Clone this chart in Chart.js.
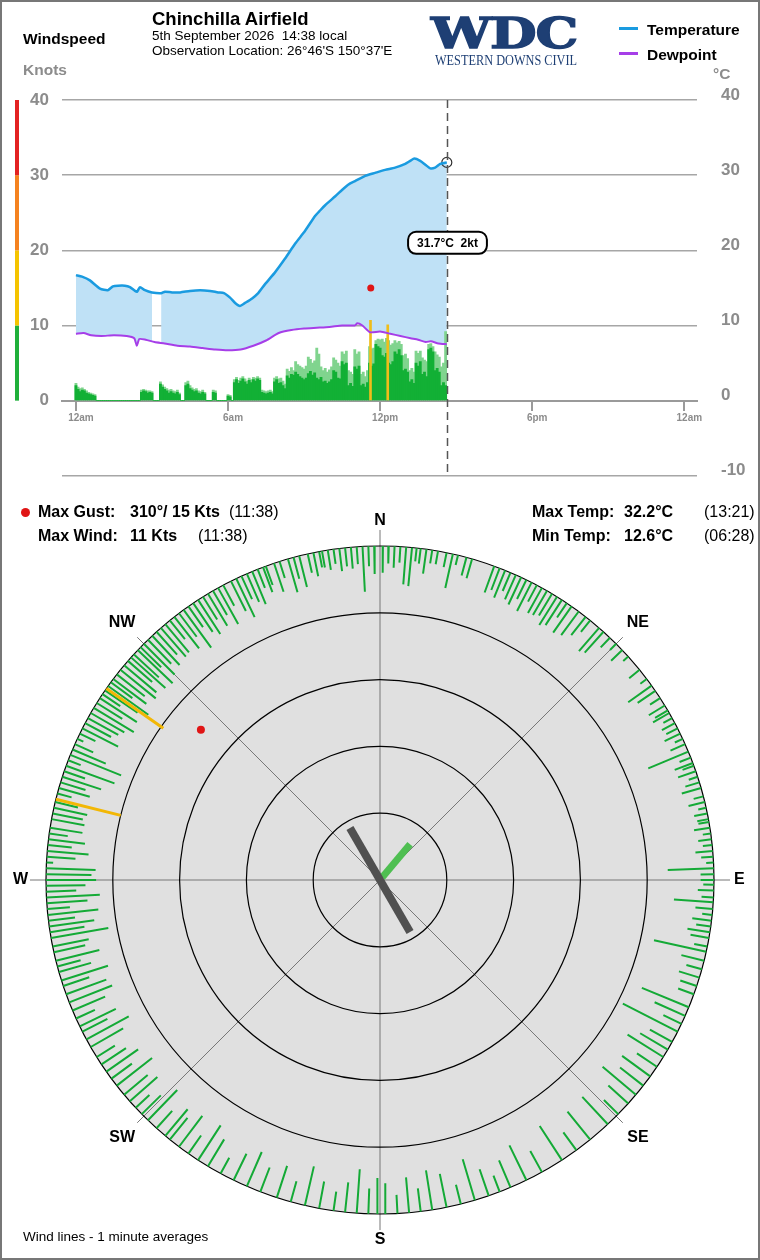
<!DOCTYPE html>
<html>
<head>
<meta charset="utf-8">
<title>Chinchilla Airfield</title>
<script src="https://cdn.jsdelivr.net/npm/chart.js@4.4.1/dist/chart.umd.min.js"></script>
<style>
  body { margin: 0; background: #fff; font-family: "Liberation Sans", Arial, sans-serif; }
  #page { position: relative; width: 760px; height: 1260px; overflow: hidden; background: #fff; }
  #frame { position: absolute; left: 0; top: 0; width: 760px; height: 1260px; border: 2px solid #777; box-sizing: border-box; z-index: 5; pointer-events: none; }
  canvas { position: absolute; left: 0; }
  .t { position: absolute; white-space: pre; line-height: 1; color: #000; z-index: 3; }
  .b { font-weight: bold; }
  .logo { position: absolute; color: #1e3f74; z-index: 3; white-space: pre; line-height: 1; }
</style>
</head>
<body>
<div id="page">
  <canvas id="timeChart" width="760" height="502" style="top:0"></canvas>
  <canvas id="roseChart" width="760" height="760" style="top:500px"></canvas>

  <div class="t b" style="left:152px;top:9.5px;font-size:18.5px">Chinchilla Airfield</div>
  <div class="t" style="left:152px;top:29px;font-size:13.5px">5th September 2026  14:38 local</div>
  <div class="t" style="left:152px;top:44px;font-size:13.5px">Observation Location: 26°46'S 150°37'E</div>
  <div class="t b" style="left:23px;top:30.5px;font-size:15.5px">Windspeed</div>
  <div class="t b" style="left:23px;top:61.5px;font-size:15.5px;color:#8c8c8c">Knots</div>
  <div class="t b" style="left:713px;top:66px;font-size:15.5px;color:#8c8c8c">°C</div>

  <div class="logo" style="left:431px;top:13px;font-family:'DejaVu Serif',serif;font-weight:bold;font-size:42px;letter-spacing:-1px;transform:scaleX(1.28);transform-origin:0 0;-webkit-text-stroke:1.4px #1e3f74">WDC</div>
  <div class="logo" style="left:435px;top:53px;font-family:'Liberation Serif',serif;font-size:15px;transform:scaleX(0.82);transform-origin:0 0">WESTERN DOWNS CIVIL</div>

  <div style="position:absolute;left:619px;top:27px;width:19px;height:3px;background:#1a9be0"></div>
  <div style="position:absolute;left:619px;top:52px;width:19px;height:3px;background:#a63ee8"></div>
  <div class="t b" style="left:647px;top:21.5px;font-size:15.5px">Temperature</div>
  <div class="t b" style="left:647px;top:46.5px;font-size:15.5px">Dewpoint</div>

  <div style="position:absolute;left:21px;top:508px;width:9px;height:9px;border-radius:50%;background:#e01515;z-index:3"></div>
  <div class="t b" style="left:38px;top:504px;font-size:16px">Max Gust:</div>
  <div class="t b" style="left:130px;top:504px;font-size:16px">310°/ 15 Kts</div>
  <div class="t" style="left:229px;top:504px;font-size:16px">(11:38)</div>
  <div class="t b" style="left:38px;top:528px;font-size:16px">Max Wind:</div>
  <div class="t b" style="left:130px;top:528px;font-size:16px">11 Kts</div>
  <div class="t" style="left:198px;top:528px;font-size:16px">(11:38)</div>
  <div class="t b" style="left:532px;top:504px;font-size:16px">Max Temp:</div>
  <div class="t b" style="left:624px;top:504px;font-size:16px">32.2°C</div>
  <div class="t" style="left:704px;top:504px;font-size:16px">(13:21)</div>
  <div class="t b" style="left:532px;top:528px;font-size:16px">Min Temp:</div>
  <div class="t b" style="left:624px;top:528px;font-size:16px">12.6°C</div>
  <div class="t" style="left:704px;top:528px;font-size:16px">(06:28)</div>

  <div class="t" style="left:23px;top:1230px;font-size:13.5px">Wind lines - 1 minute averages</div>
  <div id="frame"></div>
</div>

<script>
// ---- time series data ----
const timeLabels = ['12am', '6am', '12pm', '6pm', '12am'];
const tickHours = [0, 6, 12, 18, 24];

const tempTimes = [0, 0.24, 0.55, 0.95, 1.26, 1.46, 1.66, 1.93, 2.13, 2.33, 2.41, 2.53, 2.72, 3.0, 3.36, 3.51, 3.79, 4.11, 4.5, 4.9,
  5.29, 5.61, 5.84, 6.08, 6.28, 6.47, 6.67, 6.95, 7.19, 7.46, 7.86, 8.25, 8.65, 9.04, 9.44, 9.63, 9.83, 10.23, 10.62, 10.82,
  11.01, 11.41, 11.8, 12.2, 12.59, 12.99, 13.19, 13.35, 13.58, 13.78, 13.98, 14.17, 14.37, 14.63];
const tempVals = [16.7, 16.5, 16.0, 14.9, 14.7, 15.2, 15.3, 15.3, 15.1, 14.6, 14.5, 15.1, 14.7, 14.4, 14.3, 14.5, 14.4, 14.4, 14.6, 14.7,
  14.6, 14.4, 14.3, 13.7, 13.0, 12.6, 13.0, 13.6, 14.3, 15.5, 17.1, 18.9, 20.9, 22.6, 24.6, 25.3, 26.0, 27.2, 28.4, 28.9,
  29.2, 29.9, 30.3, 30.7, 31.0, 31.5, 31.9, 32.2, 31.9, 31.4, 30.9, 31.0, 31.5, 31.7];
const fillGap = [3.0, 3.36];   // missing fill between these hours

const dewTimes = [0, 0.3, 0.6, 1.0, 1.5, 2.0, 2.3, 2.4, 2.5, 2.75, 3.1, 3.5, 4.0, 4.5, 5.0, 5.5, 6.0, 6.5, 7.0, 7.5,
  8.0, 8.5, 9.0, 9.5, 10.0, 10.5, 11.0, 11.1, 11.3, 11.6, 12.0, 12.4, 12.8, 13.2, 13.5, 13.8, 14.0, 14.3, 14.63];
const dewVals = [8.9, 9.0, 8.7, 8.6, 8.7, 8.6, 8.3, 7.3, 8.2, 8.1, 7.8, 7.6, 7.3, 7.2, 7.0, 6.8, 6.7, 6.8, 7.3, 8.0,
  9.0, 9.4, 9.6, 9.7, 9.8, 10.0, 10.0, 10.3, 10.0, 9.1, 9.2, 8.9, 8.6, 8.3, 8.1, 7.8, 7.9, 7.6, 7.5];

// wind, one value every 5 minutes from midnight (knots)
const stepMin = 5;
const windAvg = [
  2.0, 1.5, 1.2, 1.4, 1.3, 1.0, 0.9, 0.8, 0.7, 0.6, 0, 0,
  0, 0, 0, 0, 0, 0, 0, 0, 0, 0, 0, 0,
  0, 0, 0, 0, 0, 0, 0, 1.1, 1.3, 1.2, 1.0, 1.1,
  1.0, 0, 0, 0, 2.2, 1.8, 1.5, 1.3, 1.0, 1.2, 1.0, 0.9,
  1.1, 0.8, 0, 0, 2.0, 2.2, 1.6, 1.4, 1.2, 1.3, 1.0, 0.9,
  1.1, 0.9, 0, 0, 0, 1.1, 1.0, 0, 0, 0, 0, 0,
  0.6, 0.5, 0, 2.4, 2.8, 2.3, 2.6, 2.9, 2.5, 2.2, 2.7, 2.4,
  2.8, 2.6, 2.9, 2.7, 1.1, 1.0, 0.9, 1.0, 1.1, 0.9, 2.5, 2.8,
  2.3, 2.4, 2.0, 1.6, 3.3, 3.0, 3.5, 3.4, 3.8, 3.5, 3.2, 3.0,
  2.8, 3.0, 3.6, 3.9, 3.4, 3.7, 3.0, 2.8, 3.1, 2.5, 2.6, 2.3,
  2.5, 2.8, 4.0, 3.8, 3.0, 2.9, 5.2, 4.8, 5.0, 2.0, 2.3, 1.9,
  4.5, 4.2, 4.6, 2.0, 2.2, 1.8, 2.4, 5.0, 4.6, 4.9, 7.5, 7.2,
  7.0, 6.0, 5.8, 6.3, 5.0, 4.8, 5.2, 6.5, 6.2, 6.8, 6.0, 4.0,
  4.2, 3.8, 2.5, 2.8, 2.3, 5.0, 4.6, 5.2, 3.5, 3.8, 3.2, 6.8,
  7.0, 6.5, 4.0, 4.3, 3.8, 2.0, 2.4, 2.0
];
const windGust = [
  2.3, 1.8, 1.6, 1.7, 1.5, 1.3, 1.1, 1.0, 0.9, 0.8, 0, 0,
  0, 0, 0, 0, 0, 0, 0, 0, 0, 0, 0, 0,
  0, 0, 0, 0, 0, 0, 0, 1.4, 1.5, 1.4, 1.3, 1.3,
  1.2, 0, 0, 0, 2.5, 2.1, 1.8, 1.6, 1.4, 1.5, 1.3, 1.2,
  1.4, 1.0, 0, 0, 2.4, 2.6, 2.0, 1.7, 1.5, 1.6, 1.3, 1.2,
  1.4, 1.1, 0, 0, 0, 1.4, 1.3, 0, 0, 0, 0, 0,
  0.8, 0.7, 0, 2.8, 3.1, 2.7, 3.0, 3.2, 2.9, 2.6, 3.0, 2.8,
  3.1, 3.0, 3.2, 3.0, 1.4, 1.3, 1.2, 1.3, 1.4, 1.2, 3.0, 3.2,
  2.9, 3.0, 2.6, 2.2, 4.2, 3.9, 4.4, 4.0, 5.2, 4.8, 4.6, 4.4,
  4.2, 4.6, 5.8, 5.5, 5.0, 5.3, 7.0, 6.2, 4.5, 4.0, 4.3, 3.8,
  4.1, 4.5, 5.7, 5.4, 5.0, 4.6, 6.5, 6.2, 6.6, 4.0, 3.8, 3.5,
  6.8, 6.2, 6.5, 3.5, 3.8, 3.2, 4.0, 7.2, 6.9, 7.0, 8.0, 8.2,
  8.1, 8.2, 7.8, 8.3, 8.0, 7.4, 7.6, 8.0, 7.7, 7.9, 7.5, 6.0,
  6.2, 5.6, 4.0, 4.3, 3.8, 6.6, 6.3, 6.6, 5.7, 5.4, 5.2, 7.5,
  7.6, 7.2, 6.5, 6.1, 5.8, 4.5, 5.0, 9.2
];
const maxWindTimes = [11.62, 12.3];
const maxWindVals = [10.7, 10.1];
const gustTime = 11.63;
const gustVal = 15;
const nowHour = 14.63;
const nowTemp = 31.7;
const nowWind = 2;
const cursorLabelAt = 21;

const bandStarts = [0, 10, 20, 30];
const bandColors = ['#1fb03a', '#f5c400', '#f5821f', '#e32222'];

// ---- wind rose data (direction deg, speed kt) ----
const roseDir = [
  0.5, 1.5, 2.5, 3.5, 4.5, 5.5, 6.3, 7, 8, 9,
  10, 11.5, 12.6, 13.5, 15, 16,
  20, 21, 22, 23, 24, 25, 26, 27, 28, 29,
  30, 31, 32, 33, 34, 35, 36.5, 38, 39,
  41, 42, 43.5, 45, 46.5, 48,
  51, 53, 54.4, 55.5, 57, 58.5, 59.5,
  60, 61, 62, 63, 64, 65, 66, 67.4, 68.5, 69.5,
  70, 71, 72, 73, 74, 75.5, 76.5, 77.5, 78.5, 79.5,
  80, 81, 82, 83, 84, 85, 86, 87, 88, 89,
  90, 90.8, 91.8, 93, 93.8, 95, 96, 97, 98, 99,
  100, 101.5, 102.4, 104, 105.5, 107, 108.5,
  110, 112.4, 114, 115.5, 117, 119,
  120.5, 122, 124, 126, 128,
  130, 132, 134.5, 137,
  141, 144, 147,
  151, 154, 157, 159,
  161, 163.5, 166, 168.5,
  171, 173, 175, 177, 179,
  180.5, 182, 184, 186, 188,
  190.5, 193, 195.5, 198,
  201, 203.5, 206, 208.5,
  211, 213, 215, 217, 219,
  220, 222, 224, 225.5, 227, 228.5,
  230, 232, 233.5, 235, 236.5, 238,
  240, 241.5, 243, 244, 245.5, 247, 248.5,
  250, 251.5, 252.5, 254, 255, 256, 257.5, 258.5,
  260, 261, 262, 263, 264, 265, 266, 267, 268, 269,
  270, 271, 272, 273, 274, 275, 276, 277, 278, 279,
  280.5, 281.5, 282.5, 283.5, 285, 286, 287, 288, 289,
  290, 291, 292, 293, 294, 295, 296, 297, 298, 299,
  300, 301, 302, 303, 303.8, 304.6, 305.5, 306.3, 307, 308, 309,
  310, 311, 311.8, 312.5, 313.5, 314.2, 315, 316, 317, 318, 319,
  320, 321, 322, 323, 324, 325, 326, 327, 328, 329,
  330, 331, 332, 333.5, 334.5, 335.5, 336.5, 337.5, 338.5, 339.5,
  340, 341.5, 342.5, 344, 345, 346, 347.5, 348.5, 349.5,
  350, 351, 352, 353, 354, 355, 356, 357, 358, 359
];
const roseSpd = [
  4.0, 2.6, 3.2, 2.4, 5.6, 5.8, 2.0, 2.3, 3.7, 2.0,
  2.0, 2.2, 5.2, 1.5, 2.8, 3.0,
  4.2, 3.5, 4.4, 3.0, 4.0, 4.5, 3.2, 4.8, 2.8, 4.3,
  4.2, 3.8, 5.0, 4.5, 2.6, 4.8, 4.4, 3.5, 2.2,
  4.6, 4.2, 2.0, 1.3, 2.3, 1.0,
  2.0, 1.2, 4.3, 3.2, 1.8, 2.8, 2.2,
  2.8, 1.5, 2.2, 1.9, 2.6, 1.3, 2.4, 6.5, 1.8, 2.9,
  1.8, 2.8, 1.4, 2.2, 3.0, 1.5, 2.5, 1.2, 2.0, 1.7,
  1.6, 2.4, 1.2, 2.0, 1.4, 2.6, 1.8, 1.1, 6.9, 2.0,
  2.0, 1.6, 2.4, 1.8, 5.9, 2.6, 1.5, 2.9, 2.2, 3.4,
  2.8, 2.0, 8.0, 3.5, 2.4, 3.2, 2.6,
  2.5, 7.6, 5.0, 3.0, 9.2, 3.8,
  4.8, 6.3, 3.6, 5.2, 4.4,
  6.5, 4.0, 3.0, 5.6,
  5.4, 3.3, 6.1,
  3.6, 5.8, 4.4, 2.6,
  4.2, 6.4, 3.0, 5.1,
  6.0, 3.5, 5.3, 2.8, 4.6,
  5.4, 3.8, 6.6, 4.5, 2.9,
  4.1, 6.0, 3.2, 5.0,
  3.9, 5.6, 4.4, 2.7,
  4.7, 6.2, 3.3, 5.8, 4.2,
  5.2, 3.5, 6.3, 4.0, 2.8, 5.5,
  4.6, 6.7, 3.8, 5.8, 4.4, 3.2,
  5.6, 7.2, 4.2, 6.0, 3.1, 5.3, 6.9,
  6.4, 4.1, 7.3, 5.0, 3.6, 6.7, 4.8, 5.5,
  8.7, 5.2, 6.8, 4.0, 7.6, 3.4, 6.1, 8.0, 4.5, 5.9,
  7.5, 6.8, 7.4, 1.0, 4.3, 6.2, 3.6, 5.5, 2.8, 4.9,
  5.0, 4.6, 5.1, 3.5, 2.2, 4.8, 3.9, 6.1, 3.3,
  7.7, 2.0, 8.2, 5.4, 3.0, 1.0, 2.6, 6.0, 4.4, 5.2,
  5.8, 7.0, 4.5, 6.6, 3.2, 5.9, 7.4, 4.0, 6.2, 5.3, 6.8,
  6.3, 4.8, 6.9, 5.1, 7.2, 4.3, 6.5, 5.0, 6.0, 4.6, 5.7,
  5.5, 3.6, 6.0, 4.4, 7.0, 3.8, 5.2, 6.1, 4.0, 5.6,
  4.2, 6.2, 3.5, 5.0, 6.4, 3.8, 4.6, 5.3, 3.0, 4.0,
  3.0, 4.5, 2.6, 5.2, 3.3, 4.8, 2.9, 3.6, 2.4,
  2.5, 3.0, 2.2, 3.4, 2.8, 3.2, 2.6, 6.8, 3.0, 4.2
];
const maxDir = [305, 284];
const maxSpd = [10.4, 10.0];
const gustDir = 310;
const avgDir = 330;
const avgLen = 9;
const curDir = 40;
const curLen = 7;
const rimKts = 50;
const ringKts = [10, 20, 30, 40];
const compass = ['N', 'NE', 'E', 'SE', 'S', 'SW', 'W', 'NW'];

Chart.defaults.font.family = "'Liberation Sans', Arial, sans-serif";
Chart.defaults.animation = false;

// ---- time series chart ----
const pts = (xs, ys) => xs.map((x, i) => ({x: x, y: ys[i]}));
const windPts = arr => arr.map((v, i) => ({x: i * stepMin / 60, y: v}));

const fillPts = pts(tempTimes, tempVals);
const gapAt = fillPts.findIndex(p => p.x === fillGap[0]);
fillPts.splice(gapAt + 1, 0, {x: (fillGap[0] + fillGap[1]) / 2, y: null});

const timeDeco = {
  id: 'timeDeco',
  beforeDatasetsDraw(chart) {
    const {ctx, scales: {y}} = chart;
    ctx.save();
    bandStarts.forEach((b, i) => {
      const top = y.getPixelForValue(b + 10);
      const bot = y.getPixelForValue(b);
      ctx.fillStyle = bandColors[i];
      ctx.fillRect(15, top, 4, bot - top);
    });
    ctx.restore();
  },
  afterDatasetsDraw(chart) {
    const {ctx, chartArea, scales: {x, y}} = chart;
    const nx = Math.round(x.getPixelForValue(nowHour)) + 0.5;
    ctx.save();
    ctx.strokeStyle = '#555';
    ctx.lineWidth = 1.5;
    ctx.setLineDash([8, 5]);
    ctx.beginPath();
    ctx.moveTo(nx, chartArea.top);
    ctx.lineTo(nx, chartArea.bottom);
    ctx.stroke();
    ctx.setLineDash([]);

    const label = nowTemp.toFixed(1) + '°C  ' + nowWind + 'kt';
    ctx.font = "bold 12px 'Liberation Sans', Arial, sans-serif";
    const w = ctx.measureText(label).width + 18;
    const h = 22;
    const ly = y.getPixelForValue(cursorLabelAt);
    ctx.beginPath();
    ctx.roundRect(nx - w / 2, ly - h / 2, w, h, 8);
    ctx.fillStyle = '#fff';
    ctx.fill();
    ctx.lineWidth = 2;
    ctx.strokeStyle = '#000';
    ctx.stroke();
    ctx.fillStyle = '#000';
    ctx.textAlign = 'center';
    ctx.textBaseline = 'middle';
    ctx.fillText(label, nx, ly + 1);
    ctx.restore();
  }
};

new Chart(document.getElementById('timeChart'), {
  type: 'line',
  data: {
    datasets: [
      {label: 'Temperature', data: pts(tempTimes, tempVals), borderColor: '#1a9be0', borderWidth: 2.5,
        pointRadius: 0, tension: 0.2, order: 0},
      {label: 'Dewpoint', data: pts(dewTimes, dewVals), borderColor: '#a63ee8', borderWidth: 2,
        pointRadius: 0, tension: 0.2, order: 1},
      {label: 'fill', data: fillPts, borderWidth: 0, borderColor: 'rgba(0,0,0,0)', backgroundColor: '#bfe1f6',
        pointRadius: 0, tension: 0.2, fill: 1, spanGaps: false, order: 9},
      {type: 'scatter', label: 'gust', data: [{x: gustTime, y: gustVal}], pointRadius: 3.5,
        pointBackgroundColor: '#e01515', pointBorderWidth: 0, order: 0},
      {type: 'scatter', label: 'now', data: [{x: nowHour, y: nowTemp}], pointRadius: 5,
        pointBackgroundColor: 'rgba(0,0,0,0)', pointBorderColor: '#333', pointBorderWidth: 1.2, order: 0},
      {type: 'bar', label: 'max wind', data: pts(maxWindTimes, maxWindVals), backgroundColor: '#efbd1a',
        barThickness: 2, grouped: false, order: 3},
      {type: 'bar', label: 'wind', data: windPts(windAvg), backgroundColor: '#12b035',
        barThickness: 2.2, grouped: false, order: 4},
      {type: 'bar', label: 'gust', data: windPts(windGust), backgroundColor: '#80d48e',
        barThickness: 2.2, grouped: false, order: 5}
    ]
  },
  options: {
    responsive: false,
    layout: {padding: {top: 100, bottom: 3, left: 0, right: 0}},
    plugins: {legend: {display: false}, tooltip: {enabled: false}},
    scales: {
      x: {
        type: 'linear', min: -0.55, max: 24.5, position: {y: 0}, offset: false,
        afterBuildTicks: s => { s.ticks = tickHours.map(v => ({value: v})); },
        ticks: {callback: (v, i) => timeLabels[i], color: '#8c8c8c', font: {size: 10, weight: 'bold'},
          padding: 3, labelOffset: 5, maxRotation: 0, autoSkip: false},
        grid: {offset: false, drawOnChartArea: false, drawTicks: true, tickLength: 9, color: '#9a9a9a', lineWidth: 2},
        border: {display: true, color: '#9a9a9a', width: 2}
      },
      y: {
        type: 'linear', min: -10, max: 40, position: 'left',
        afterFit: s => { s.width = 62; },
        ticks: {stepSize: 10, callback: v => (v < 0 ? '' : v), color: '#8c8c8c', padding: 13,
          font: {size: 17, weight: 'bold'}},
        grid: {color: '#a6a6a6', lineWidth: 1.5, drawTicks: false},
        border: {display: false}
      },
      y2: {
        type: 'linear', min: -10, max: 40, position: 'right',
        afterFit: s => { s.width = 63; },
        ticks: {stepSize: 10, color: '#8c8c8c', padding: 16, labelOffset: -5,
          font: {size: 17, weight: 'bold'}},
        grid: {display: false},
        border: {display: false}
      }
    }
  },
  plugins: [timeDeco]
});

// ---- wind rose ----
function polar(dir, r) {
  const a = dir * Math.PI / 180;
  return {x: r * Math.sin(a), y: r * Math.cos(a)};
}
function spokes(dirs, spds) {
  const out = [];
  dirs.forEach((d, i) => {
    out.push(polar(d, rimKts), polar(d, rimKts - spds[i]), {x: null, y: null});
  });
  return out;
}

const roseDeco = {
  id: 'roseDeco',
  beforeDatasetsDraw(chart) {
    const {ctx, scales: {x, y}} = chart;
    const cx = x.getPixelForValue(0);
    const cy = y.getPixelForValue(0);
    const rad = k => x.getPixelForValue(k) - cx;
    ctx.save();
    ctx.beginPath();
    ctx.arc(cx, cy, rad(rimKts), 0, Math.PI * 2);
    ctx.fillStyle = '#e0e0e0';
    ctx.fill();
    ctx.strokeStyle = '#777';
    ctx.lineWidth = 1;
    compass.forEach((c, i) => {
      const p = polar(i * 45, i % 2 ? 51.4 : 52.4);
      ctx.beginPath();
      ctx.moveTo(cx, cy);
      ctx.lineTo(x.getPixelForValue(p.x), y.getPixelForValue(p.y));
      ctx.stroke();
    });
    ctx.strokeStyle = '#000';
    ctx.lineWidth = 1.2;
    ctx.beginPath();
    ctx.arc(cx, cy, rad(rimKts), 0, Math.PI * 2);
    ctx.stroke();
    ringKts.forEach(k => {
      ctx.beginPath();
      ctx.arc(cx, cy, rad(rimKts - k), 0, Math.PI * 2);
      ctx.stroke();
    });
    ctx.restore();
  },
  afterDatasetsDraw(chart) {
    const {ctx, scales: {x, y}} = chart;
    ctx.save();
    ctx.font = "bold 16px 'Liberation Sans', Arial, sans-serif";
    ctx.fillStyle = '#000';
    ctx.textAlign = 'center';
    ctx.textBaseline = 'middle';
    compass.forEach((c, i) => {
      const p = polar(i * 45, i % 2 ? 54.6 : 53.8);
      ctx.fillText(c, x.getPixelForValue(p.x), y.getPixelForValue(p.y));
    });
    ctx.restore();
  }
};

const lineOpts = {showLine: true, pointRadius: 0, spanGaps: false, borderCapStyle: 'butt', tension: 0};

new Chart(document.getElementById('roseChart'), {
  type: 'scatter',
  data: {
    datasets: [
      Object.assign({data: [polar(avgDir, avgLen), polar(avgDir + 180, avgLen)], borderColor: '#505050',
        borderWidth: 8, order: 0}, lineOpts),
      Object.assign({data: [polar(curDir, 0.5), polar(curDir, curLen)], borderColor: '#4fbf52',
        borderWidth: 7, order: 1}, lineOpts),
      {data: [polar(gustDir, rimKts - gustVal)], pointRadius: 4, pointBackgroundColor: '#e01515',
        pointBorderWidth: 0, order: 2},
      Object.assign({data: spokes(maxDir, maxSpd), borderColor: '#f2b705', borderWidth: 3, order: 3}, lineOpts),
      Object.assign({data: spokes(roseDir, roseSpd), borderColor: '#14aa36', borderWidth: 2, order: 4}, lineOpts)
    ]
  },
  options: {
    responsive: false,
    layout: {padding: 46},
    plugins: {legend: {display: false}, tooltip: {enabled: false}},
    scales: {
      x: {type: 'linear', min: -rimKts, max: rimKts, display: false},
      y: {type: 'linear', min: -rimKts, max: rimKts, display: false}
    }
  },
  plugins: [roseDeco]
});
</script>
</body>
</html>
